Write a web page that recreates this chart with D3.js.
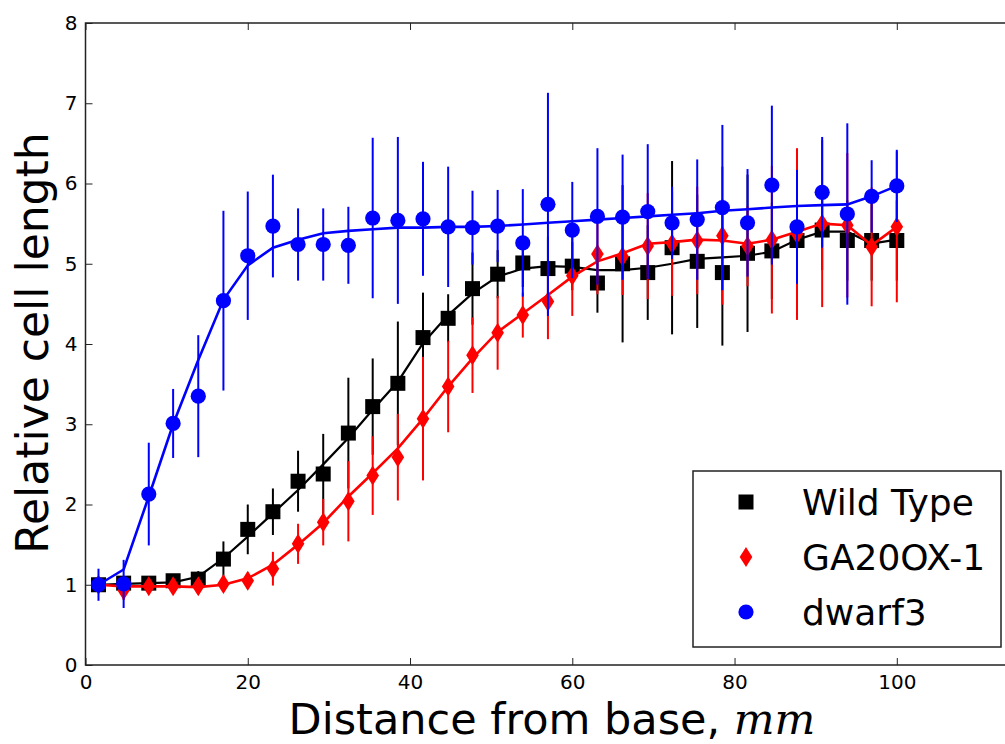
<!DOCTYPE html>
<html>
<head>
<meta charset="utf-8">
<script src="https://cdn.jsdelivr.net/npm/d3@7"></script>
<style>
  html, body { margin: 0; padding: 0; background: #fff; }
  text { font-family: "DejaVu Sans", sans-serif; fill: #000; }
</style>
</head>
<body>
<div class="chart"></div>
<script>
// positions along the leaf (mm)
var distance = [1.6, 4.7, 7.8, 10.8, 13.9, 17.0, 20.0, 23.1, 26.2, 29.3, 32.4, 35.4, 38.5,
  41.6, 44.7, 47.7, 50.8, 53.9, 57.0, 60.0, 63.1, 66.2, 69.3, 72.3, 75.4, 78.5, 81.6,
  84.6, 87.7, 90.8, 93.9, 96.9, 100.0];

var wildType = [1.00, 1.02, 1.02, 1.05, 1.07, 1.32, 1.69, 1.91, 2.29, 2.38, 2.89, 3.22, 3.51,
  4.08, 4.32, 4.69, 4.87, 5.01, 4.94, 4.97, 4.76, 5.00, 4.89, 5.20, 5.03, 4.89, 5.13,
  5.16, 5.29, 5.42, 5.29, 5.29, 5.29];
var wildTypeErr = [0.08, 0.06, 0.06, 0.06, 0.10, 0.22, 0.31, 0.29, 0.38, 0.50, 0.69, 0.60, 0.77,
  0.56, 0.30, 0.45, 0.30, 0.30, 0.40, 0.30, 0.37, 0.98, 0.59, 1.08, 0.83, 0.91, 0.98,
  0.60, 0.60, 0.50, 0.50, 0.50, 0.50];
var wildTypeFit = [1.00, 1.01, 1.02, 1.03, 1.10, 1.33, 1.60, 1.89, 2.18, 2.50, 2.83, 3.18, 3.53,
  4.01, 4.36, 4.63, 4.84, 4.94, 4.97, 4.96, 4.92, 4.92, 4.95, 5.00, 5.06, 5.08, 5.10,
  5.15, 5.30, 5.40, 5.40, 5.25, 5.30];

var ga20 = [1.00, 0.93, 0.98, 0.98, 0.98, 1.01, 1.05, 1.20, 1.51, 1.78, 2.04, 2.36, 2.59,
  3.07, 3.47, 3.86, 4.14, 4.36, 4.53, 4.85, 5.12, 5.09, 5.22, 5.25, 5.29, 5.35, 5.22,
  5.30, 5.37, 5.50, 5.48, 5.21, 5.46];
var ga20Err = [0.10, 0.12, 0.08, 0.08, 0.08, 0.08, 0.10, 0.21, 0.25, 0.29, 0.50, 0.49, 0.54,
  0.77, 0.57, 0.47, 0.46, 0.28, 0.47, 0.50, 0.50, 0.48, 0.66, 0.65, 0.67, 0.86, 0.50,
  0.92, 1.07, 1.04, 0.90, 0.74, 0.94];
var ga20Fit = [1.00, 0.98, 0.98, 0.98, 0.97, 1.00, 1.08, 1.25, 1.50, 1.77, 2.10, 2.39, 2.70,
  3.07, 3.47, 3.82, 4.15, 4.38, 4.61, 4.84, 5.03, 5.13, 5.25, 5.27, 5.30, 5.29, 5.25,
  5.30, 5.40, 5.50, 5.48, 5.23, 5.46];

var dwarf3 = [1.00, 1.01, 2.13, 3.01, 3.35, 4.54, 5.10, 5.47, 5.24, 5.24, 5.23, 5.57, 5.54,
  5.56, 5.46, 5.45, 5.47, 5.26, 5.74, 5.42, 5.59, 5.58, 5.65, 5.51, 5.55, 5.70, 5.51,
  5.98, 5.46, 5.89, 5.62, 5.84, 5.97];
var dwarf3Err = [0.20, 0.30, 0.64, 0.43, 0.76, 1.12, 0.80, 0.64, 0.45, 0.45, 0.48, 1.00, 1.04,
  0.71, 0.75, 0.46, 0.45, 0.67, 1.39, 0.60, 0.85, 0.78, 0.84, 0.45, 0.75, 1.03, 0.67,
  0.99, 0.71, 0.69, 1.13, 0.45, 0.45];
var dwarf3Fit = [1.00, 1.19, 2.10, 3.00, 3.80, 4.55, 4.98, 5.20, 5.30, 5.38, 5.41, 5.43, 5.45,
  5.45, 5.46, 5.46, 5.47, 5.49, 5.51, 5.53, 5.55, 5.57, 5.59, 5.61, 5.63, 5.66, 5.68,
  5.70, 5.72, 5.73, 5.74, 5.84, 5.97];

var seriesNames = ['Wild Type', 'GA20OX-1', 'dwarf3'];
var xTicks = [0, 20, 40, 60, 80, 100];
var yTicks = [0, 1, 2, 3, 4, 5, 6, 7, 8];

var margin = { top: 23, left: 85.5 };
var width = 933;   // right spine sits just outside the picture
var height = 642;

var svg = d3.select('.chart')
  .append('svg')
    .attr('width', 1005)
    .attr('height', 744);

svg.append('rect').attr('width', 1005).attr('height', 744).attr('fill', '#fff');

var g = svg.append('g')
  .attr('transform', `translate(${margin.left}, ${margin.top})`);

var x = d3.scaleLinear().domain([0, 115]).range([0, width]);
var y = d3.scaleLinear().domain([0, 8]).range([height, 0]);

// axes, matplotlib style ticks pointing inward
var xAxis = d3.axisBottom(x).tickValues(xTicks).tickSize(-7).tickSizeOuter(0).tickPadding(10);
var xTop = d3.axisTop(x).tickValues(xTicks).tickSize(-7).tickSizeOuter(0).tickFormat('');
var yAxis = d3.axisLeft(y).tickValues(yTicks).tickSize(-7).tickSizeOuter(0).tickPadding(8);

function styleAxis(sel) {
  sel.select('.domain').remove();
  sel.selectAll('line').attr('stroke', '#222').attr('stroke-width', 1);
  sel.selectAll('text').style('font-size', '20px').style('font-family', '"DejaVu Sans", sans-serif').attr('fill', '#000');
}

g.append('g').attr('transform', `translate(0, ${height})`).call(xAxis).call(styleAxis);
g.append('g').call(xTop).call(styleAxis);
g.append('g').call(yAxis).call(styleAxis);

var series = [
  { name: seriesNames[0], v: wildType, e: wildTypeErr, f: wildTypeFit, color: '#000000', shape: 'square', lw: 2.2 },
  { name: seriesNames[1], v: ga20, e: ga20Err, f: ga20Fit, color: '#ff0000', shape: 'diamond', lw: 2.6 },
  { name: seriesNames[2], v: dwarf3, e: dwarf3Err, f: dwarf3Fit, color: '#0000ff', shape: 'circle', lw: 2.6 }
];

function markerPath(shape) {
  if (shape === 'square') return 'M-7.5,-7.5H7.5V7.5H-7.5Z';
  if (shape === 'diamond') return 'M0,-10L6.3,0L0,10L-6.3,0Z';
  return d3.symbol().type(d3.symbolCircle).size(Math.PI * 7.6 * 7.6)();
}

var line = d3.line()
  .x(function (d) { return x(d[0]); })
  .y(function (d) { return y(d[1]); });

var plot = g.append('g');

series.forEach(function (s) {
  var pts = distance.map(function (d, i) { return { x: d, v: s.v[i], e: s.e[i], f: s.f[i] }; });
  var sg = plot.append('g');

  sg.selectAll('line.err')
    .data(pts)
    .enter().append('line')
      .attr('x1', function (d) { return x(d.x); })
      .attr('x2', function (d) { return x(d.x); })
      .attr('y1', function (d) { return y(d.v - d.e); })
      .attr('y2', function (d) { return y(d.v + d.e); })
      .attr('stroke', s.color)
      .attr('stroke-width', 2);

  sg.append('path')
    .datum(pts.map(function (d) { return [d.x, d.f]; }))
    .attr('d', line)
    .attr('fill', 'none')
    .attr('stroke', s.color)
    .attr('stroke-width', s.lw);

  sg.selectAll('path.mk')
    .data(pts)
    .enter().append('path')
      .attr('d', markerPath(s.shape))
      .attr('transform', function (d) { return `translate(${x(d.x)}, ${y(d.v)})`; })
      .attr('fill', s.color);
});

// frame
g.append('rect')
  .attr('width', width)
  .attr('height', height)
  .attr('fill', 'none')
  .attr('stroke', '#222')
  .attr('stroke-width', 1.5);

// legend
var legend = svg.append('g').attr('transform', 'translate(693, 471)');
legend.append('rect')
  .attr('width', 308)
  .attr('height', 176)
  .attr('fill', '#fff')
  .attr('stroke', '#222')
  .attr('stroke-width', 1.5);

series.forEach(function (s, i) {
  var row = legend.append('g').attr('transform', `translate(0, ${31 + i * 55})`);
  row.append('path')
    .attr('d', markerPath(s.shape))
    .attr('transform', 'translate(53, 0)')
    .attr('fill', s.color);
  row.append('text')
    .attr('x', 109)
    .attr('dy', '0.36em')
    .style('font-size', '36px')
    .text(s.name);
});

// axis labels
svg.append('text')
  .attr('transform', 'translate(48, 343) rotate(-90)')
  .attr('text-anchor', 'middle')
  .style('font-size', '44px')
  .text('Relative cell length');

var xl = svg.append('text')
  .attr('x', margin.left + width / 2)
  .attr('y', 734)
  .attr('text-anchor', 'middle')
  .style('font-size', '43px');
xl.append('tspan').text('Distance from base, ');
xl.append('tspan')
  .style('font-family', '"DejaVu Serif", serif')
  .style('font-style', 'italic')
  .text('mm');
</script>
</body>
</html>
